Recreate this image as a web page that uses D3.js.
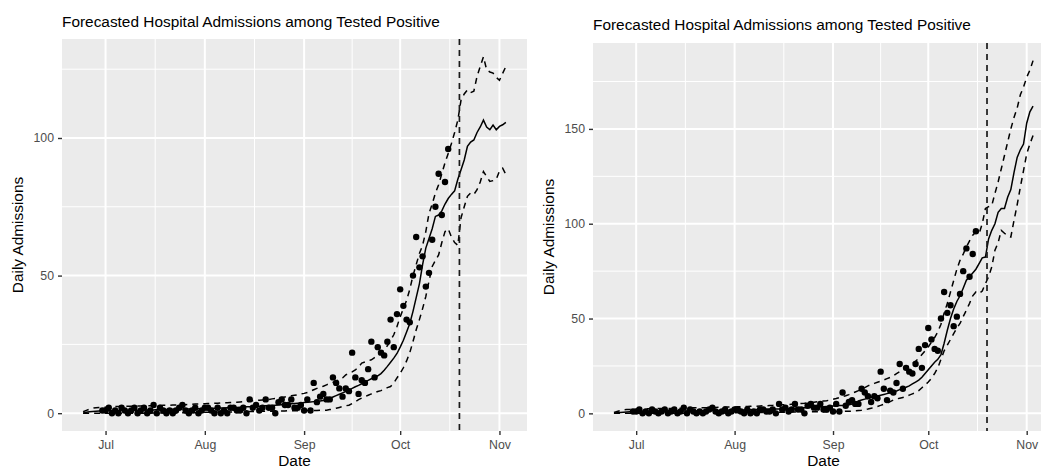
<!DOCTYPE html>
<html><head><meta charset="utf-8">
<script src="https://cdn.jsdelivr.net/npm/d3@7"></script>
<style>body{margin:0;background:#fff;overflow:hidden} svg{display:block}</style>
</head><body>
<svg id="chart" width="1041" height="467"></svg>
<script>
// ---------------- DATA ----------------
const chartTitle = "Forecasted Hospital Admissions among Tested Positive";
const xTitle = "Date";
const yTitle = "Daily Admissions";
const lineStartDate = "2020-06-24";   // first day of fitted / forecast lines
const pointStartDate = "2020-06-30";  // first observed day
const forecastDate = "2020-10-19T12:00";
const monthTicks = ["2020-07-01","2020-08-01","2020-09-01","2020-10-01","2020-11-01"];
const monthLabels = ["Jul","Aug","Sep","Oct","Nov"];
const leftYTicks = [0, 50, 100];
const rightYTicks = [0, 50, 100, 150];

// observed daily admissions, Jun 30 – Oct 16
const observed = [1,
  1,2,0,1,0,2,1,0,1,2, 0,1,2,0,1,3,0,2,1,0, 1,0,1,2,3,1,0,1,2,0, 1,
  2,2,1,0,2,0,1,0,2,2, 1,1,2,0,5,2,3,1,2,5, 2,2,0,4,5,3,3,5,2,2, 3,
  1,5,1,11,4,6,7,5,5,13, 11,9,6,9,8,22,13,7,12,11, 16,26,13,24,22,21,26,34,24,36,
  45,39,34,33,50,64,53,57,46,51,63,75,87,72,84,96];

// fitted lines Jun 24 – Aug 31 (shared shape in both panels)
const earlyMedian = [0.0,0.3,0.5,0.6,0.7,0.8,0.8,
  0.9,0.9,0.9,1.0,1.0,1.0,1.0,1.1,1.1,1.1, 1.1,1.1,1.2,1.2,1.2,1.2,1.3,1.3,1.3,1.3, 1.4,1.4,1.4,1.4,1.5,1.5,1.5,1.5,1.6,1.6, 1.6,
  1.7,1.7,1.7,1.8,1.8,1.9,1.9,2.0,2.0,2.1, 2.1,2.2,2.2,2.3,2.3,2.4,2.5,2.5,2.6,2.7, 2.8,2.8,2.9,3.0,3.1,3.2,3.3,3.4,3.5,3.6, 3.7];
const earlyUpper = [0.5,1.0,1.5,1.8,2.0,2.1,2.2,
  2.2,2.3,2.3,2.4,2.4,2.4,2.5,2.5,2.5,2.6, 2.6,2.6,2.7,2.7,2.7,2.8,2.8,2.8,2.9,2.9, 2.9,3.0,3.0,3.0,3.1,3.1,3.2,3.2,3.3,3.3, 3.4,
  3.4,3.5,3.5,3.6,3.6,3.7,3.8,3.8,3.9,4.0, 4.0,4.1,4.2,4.3,4.4,4.5,4.6,4.7,4.8,4.9, 5.0,5.2,5.3,5.5,5.7,5.9,6.1,6.3,6.5,6.7, 7.0];
const earlyLower = [0,0,0,0,0,0,0,
  0,0,0,0,0,0,0,0,0,0, 0,0,0,0,0,0.1,0.1,0.1,0.1,0.1, 0.1,0.1,0.1,0.2,0.2,0.2,0.2,0.2,0.2,0.3, 0.3,
  0.3,0.3,0.3,0.3,0.4,0.4,0.4,0.4,0.4,0.5, 0.5,0.5,0.5,0.5,0.6,0.6,0.6,0.6,0.7,0.7, 0.7,0.7,0.8,0.8,0.8,0.8,0.9,0.9,0.9,0.9, 1.0];

// left panel, Sep 1 – Nov 3
const leftMedian = [3.9,4.0,4.1,4.2,4.3,4.4,4.6,4.8,5.4,5.9, 6.4,6.9,7.4,7.9,8.4,9.0,9.6,10.1,10.7,11.3, 11.9,12.5,13.0,13.6,14.4,15.6,17.0,18.5,20.0,21.7,
  24.0,26.5,29.5,32.6,37.0,42.0,47.0,54.0,60.0,63.5, 67.0,71.5,72.0,73.5,76.0,78.0,79.5,80.8,85.0,88.5, 92.0,97.0,98.5,99.3,102.0,104.0,106.5,104.0,103.0,104.7, 103.0,
  104.2,104.8,105.7];
const leftUpper = [7.2,7.5,8.0,8.5,9.0,9.4,9.8,10.3,10.8,11.2, 11.6,12.2,12.8,13.9,14.5,15.0,15.7,16.8,18.2,18.6, 19.0,19.4,20.2,21.0,22.0,23.2,24.5,26.5,28.5,31.5,
  35,38,41,45,50,54,58,61,66,72.6, 76,80,83,87,91,94.4,98,102,106.5,113.8, 116,117.5,116.5,117,122.4,126,129.5,124.8,124,123.6, 122,
  121,123.5,126];
const leftLower = [1.0,1.0,1.0,1.0,1.0,1.1,1.1,1.1,1.3,1.5, 1.8,2.1,2.4,2.7,2.9,3.5,4.2,4.9,5.5,6.0, 6.5,7.0,7.4,7.9,8.2,8.8,9.3,9.7,11.0,12.8,
  14.5,16.5,19.0,22.0,26.0,30.3,34.0,38.0,42.4,48.0, 53.3,55.5,57.5,62,66,67,64,62,61,71, 75,78.8,80,79.5,81.2,84,87.8,86,84.2,84.5, 85,
  88,89,86.7];

// right panel, Sep 1 – Nov 3
const rightMedian = [3.9,4.0,4.1,4.2,4.4,4.6,4.9,5.3,6.5,7.0, 7.5,8.0,8.4,8.8,9.2,9.6,10.0,10.4,10.8,11.3, 11.8,12.5,13.2,13.8,14.5,15.5,16.5,17.5,19.0,21.0,
  23,25,27,28.5,31,37,43.8,50,55,59, 62,66,70.2,72,74,76,79,82,82.4,92, 96.5,100,106,108,108,114,118,127,135,139, 142,
  153,159,162];
const rightUpper = [7.4,7.8,8.3,8.8,9.3,9.9,10.6,11.3,12.0,12.8, 13.6,14.5,15.2,15.8,16.4,17.0,17.6,18.3,19.0,19.8, 21.0,22.0,23.0,24.0,25.0,26.2,27.5,29.0,31.0,33.0,
  35,37.5,40,43,47,53,58,64,70,76, 80.7,84,87.7,91,94,95.6,94.7,100,108,109, 109.6,116,122,129,136,143,150,156,161,168, 172,
  177.2,181,186];
const rightLower = [1.0,1.0,1.0,1.0,1.1,1.1,1.2,1.3,1.5,1.7, 2.0,2.3,2.7,3.1,3.6,4.2,4.8,5.4,6.2,7.0, 7.6,8.0,8.4,8.8,9.6,10.3,11.0,12.0,13.5,15.0,
  16.5,18.5,21,24,28.5,33,36,39,42,45, 47.4,51,54.4,58,62,64,63.2,64.5,68.4,72, 77.2,86,90,96.5,95,93.5,93,101.7,110,119.3, 128,
  136.8,142,146.5];

// ---------------- DRAW ----------------
const svg = d3.select("#chart");
const parseDay = d3.timeParse("%Y-%m-%d");
const parseDT = d3.timeParse("%Y-%m-%dT%H:%M");
const font = "'Liberation Sans', Arial, Helvetica, sans-serif";

function series(startStr, vals) {
  const s = parseDay(startStr);
  return vals.map((v, i) => ({date: d3.timeDay.offset(s, i), value: v}));
}

function drawPanel(cfg) {
  const {left, right, top, bottom, titleY, yTitleX, median, upper, lower, yTicks} = cfg;
  const med = series(lineStartDate, median);
  const up = series(lineStartDate, upper);
  const lo = series(lineStartDate, lower);
  const pts = series(pointStartDate, observed);
  const all = med.concat(up, lo, pts);

  const xExt = d3.extent(all, d => d.date);
  const xSpan = xExt[1] - xExt[0];
  const x = d3.scaleTime()
    .domain([new Date(+xExt[0] - 0.05 * xSpan), new Date(+xExt[1] + 0.05 * xSpan)])
    .range([left, right]);
  const yExt = d3.extent(all, d => d.value);
  const ySpan = yExt[1] - yExt[0];
  const y = d3.scaleLinear()
    .domain([yExt[0] - 0.05 * ySpan, yExt[1] + 0.05 * ySpan])
    .range([bottom, top]);

  const g = svg.append("g");
  g.append("rect").attr("x", left).attr("y", top)
    .attr("width", right - left).attr("height", bottom - top).attr("fill", "#EBEBEB");

  const majX = monthTicks.map(parseDay);
  const minX = [];
  for (let i = 0; i < majX.length - 1; i++) minX.push(new Date((+majX[i] + +majX[i+1]) / 2));
  const xd = x.domain();
  const yd = y.domain();
  const step = yTicks[1] - yTicks[0];
  const minY = [];
  for (let v = yTicks[0] - step / 2; v <= yd[1]; v += step) if (v >= yd[0]) minY.push(v);

  // minor grid
  g.selectAll(".mnx").data(minX.filter(d => d >= xd[0] && d <= xd[1])).enter().append("line")
    .attr("x1", d => x(d)).attr("x2", d => x(d)).attr("y1", top).attr("y2", bottom)
    .attr("stroke", "#fff").attr("stroke-width", 1);
  g.selectAll(".mny").data(minY).enter().append("line")
    .attr("x1", left).attr("x2", right).attr("y1", d => y(d)).attr("y2", d => y(d))
    .attr("stroke", "#fff").attr("stroke-width", 1);
  // major grid
  g.selectAll(".mjx").data(majX).enter().append("line")
    .attr("x1", d => x(d)).attr("x2", d => x(d)).attr("y1", top).attr("y2", bottom)
    .attr("stroke", "#fff").attr("stroke-width", 2);
  g.selectAll(".mjy").data(yTicks).enter().append("line")
    .attr("x1", left).attr("x2", right).attr("y1", d => y(d)).attr("y2", d => y(d))
    .attr("stroke", "#fff").attr("stroke-width", 2);

  // axes
  const xAxis = d3.axisBottom(x).tickValues(majX).tickFormat((d, i) => monthLabels[i])
    .tickSize(4).tickPadding(5);
  const gx = g.append("g").attr("transform", `translate(0,${bottom})`).call(xAxis);
  gx.select(".domain").remove();
  gx.selectAll(".tick line").attr("stroke", "#333333").attr("stroke-width", 1.4);
  gx.selectAll(".tick text").attr("fill", "#4D4D4D").attr("font-size", "12.3px")
    .attr("font-family", font).attr("dy", "0.71em");

  const yAxis = d3.axisLeft(y).tickValues(yTicks).tickFormat(d3.format("d"))
    .tickSize(4).tickPadding(4);
  const gy = g.append("g").attr("transform", `translate(${left},0)`).call(yAxis);
  gy.select(".domain").remove();
  gy.selectAll(".tick line").attr("stroke", "#333333").attr("stroke-width", 1.4);
  gy.selectAll(".tick text").attr("fill", "#4D4D4D").attr("font-size", "12.3px")
    .attr("font-family", font);

  // data
  const lineGen = d3.line().x(d => x(d.date)).y(d => y(d.value));
  g.append("path").datum(up).attr("d", lineGen).attr("fill", "none")
    .attr("stroke", "#000").attr("stroke-width", 1.5).attr("stroke-dasharray", "6,5");
  g.append("path").datum(lo).attr("d", lineGen).attr("fill", "none")
    .attr("stroke", "#000").attr("stroke-width", 1.5).attr("stroke-dasharray", "6,5");
  g.append("path").datum(med).attr("d", lineGen).attr("fill", "none")
    .attr("stroke", "#000").attr("stroke-width", 1.5);
  g.selectAll(".pt").data(pts).enter().append("circle")
    .attr("cx", d => x(d.date)).attr("cy", d => y(d.value)).attr("r", 3.2).attr("fill", "#000");

  const fx = x(parseDT(forecastDate));
  g.append("line").attr("x1", fx).attr("x2", fx).attr("y1", top).attr("y2", bottom)
    .attr("stroke", "#1a1a1a").attr("stroke-width", 1.7).attr("stroke-dasharray", "6,5");

  // titles
  g.append("text").attr("x", left).attr("y", titleY).text(chartTitle)
    .attr("font-family", font).attr("font-size", "15.4px").attr("fill", "#000");
  g.append("text").attr("x", (left + right) / 2).attr("y", 465.5).attr("text-anchor", "middle")
    .text(xTitle).attr("font-family", font).attr("font-size", "15.4px").attr("fill", "#000");
  g.append("text").attr("transform", `translate(${yTitleX},${(top + bottom) / 2}) rotate(-90)`)
    .attr("text-anchor", "middle").text(yTitle)
    .attr("font-family", font).attr("font-size", "15.4px").attr("fill", "#000");
}

drawPanel({left: 62, right: 527, top: 39, bottom: 431, titleY: 26.5, yTitleX: 23,
  median: earlyMedian.concat(leftMedian), upper: earlyUpper.concat(leftUpper),
  lower: earlyLower.concat(leftLower), yTicks: leftYTicks});
drawPanel({left: 593, right: 1054, top: 43, bottom: 431, titleY: 30, yTitleX: 553.5,
  median: earlyMedian.concat(rightMedian), upper: earlyUpper.concat(rightUpper),
  lower: earlyLower.concat(rightLower), yTicks: rightYTicks});
</script>
</body></html>
